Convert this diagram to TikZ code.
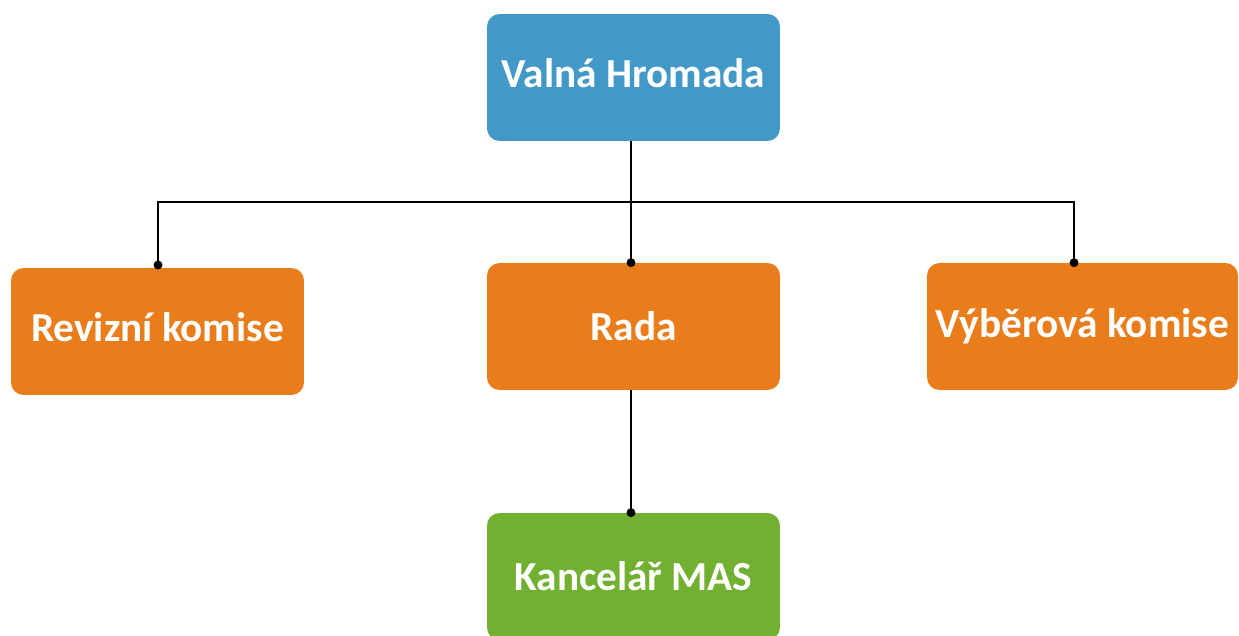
\documentclass[tikz,border=0pt]{standalone}
\usepackage{fontspec}
\setmainfont{Carlito}
\usetikzlibrary{arrows.meta}
\definecolor{boardBlue}{HTML}{4299C8}
\definecolor{boardOrange}{HTML}{EA7D1B}
\definecolor{boardGreen}{HTML}{72B032}
\tikzset{>={Circle[length=5pt]}}

\begin{document}
\begin{tikzpicture}[
    x = 0.02cm,
    y = -0.02cm,
    font = \fontsize{23.5}{28}\selectfont\bfseries,
    box/.style = {rounded corners = 0.25cm, text = white, minimum width = 5.86cm, minimum height = 2.54cm, inner sep = 0pt},
    lifted/.style = {text height = 0.65cm, text depth = 0.25cm},
    link/.style = {line width = 1.2pt, black}
  ]
    \useasboundingbox (0, 0) rectangle (1239, 635);
    \node[box, lifted, fill = boardBlue] (valna_hromada) at (633.5, 77.5) {Valná Hromada};
    \node[box, lifted, fill = boardOrange] (revizni_komise) at (157.5, 331.5) {Revizní komise};
    \node[box, fill = boardOrange] (rada) at (633.5, 326.5) {Rada};
    \node[box, fill = boardOrange, minimum width = 6.22cm] (vyberova_komise) at (1082.5, 326.5) {Výběrová komise};
    \node[box, fill = boardGreen] (kancelar) at (633.5, 576.5) {Kancelář MAS};
    \coordinate (bus) at (631, 202);
    \draw[link] (valna_hromada.south -| bus) -- (bus);
    \draw[link, ->, shorten > = -2.5pt] (bus) -| (158, 265);
    \draw[link, ->, shorten > = -2.5pt] (bus) -- (rada.north -| bus);
    \draw[link, ->, shorten > = -2.5pt] (bus) -| (vyberova_komise.north -| 1074, 0);
    \draw[link, ->, shorten > = -2.5pt] (rada.south -| bus) -- (kancelar.north -| bus);
  \end{tikzpicture}
\end{document}
